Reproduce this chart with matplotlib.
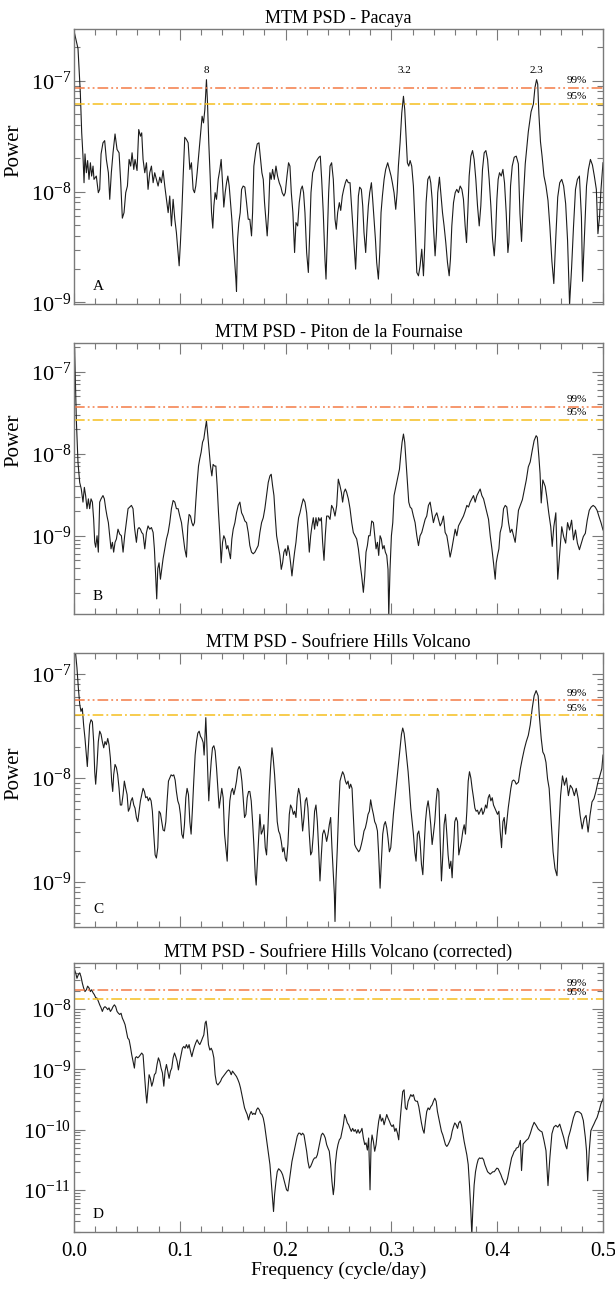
import numpy as np
import matplotlib
matplotlib.use("Agg")
import matplotlib.pyplot as plt
from matplotlib.ticker import MultipleLocator, LogLocator, NullFormatter, FixedLocator

# ---------------- data (frequency in cycle/day, log10 of power) ----------------
pacaya_points = [
    (0.0000, -6.55), (0.0038, -6.71), (0.0060, -7.11), (0.0073, -7.47), (0.0085, -7.68), (0.0095, -7.92),
    (0.0104, -7.66), (0.0117, -7.83), (0.0129, -7.72), (0.0142, -7.89), (0.0155, -7.74), (0.0167, -7.86),
    (0.0180, -7.77), (0.0189, -7.89), (0.0211, -7.86), (0.0230, -8.01), (0.0243, -7.98), (0.0256, -7.66),
    (0.0274, -7.56), (0.0290, -7.54), (0.0306, -7.71), (0.0325, -7.83), (0.0338, -8.07), (0.0353, -7.83),
    (0.0369, -7.65), (0.0388, -7.48), (0.0407, -7.62), (0.0426, -7.65), (0.0442, -7.92), (0.0457, -8.24),
    (0.0473, -8.19), (0.0489, -8.01), (0.0505, -7.95), (0.0521, -7.71), (0.0536, -7.77), (0.0549, -7.65),
    (0.0565, -7.80), (0.0577, -7.71), (0.0596, -7.81), (0.0612, -7.44), (0.0628, -7.50), (0.0640, -7.47),
    (0.0653, -7.71), (0.0669, -7.83), (0.0685, -7.74), (0.0700, -7.98), (0.0716, -7.83), (0.0732, -7.77),
    (0.0748, -7.92), (0.0763, -7.83), (0.0779, -7.89), (0.0795, -7.95), (0.0811, -7.87), (0.0826, -7.92),
    (0.0842, -7.81), (0.0858, -7.95), (0.0874, -8.07), (0.0890, -8.19), (0.0905, -8.04), (0.0921, -8.31),
    (0.0937, -8.07), (0.0953, -8.25), (0.0968, -8.37), (0.0984, -8.55), (0.0994, -8.67), (0.1006, -8.46),
    (0.1019, -8.19), (0.1032, -7.86), (0.1047, -7.51), (0.1063, -7.53), (0.1079, -7.56), (0.1095, -7.80),
    (0.1110, -7.74), (0.1126, -7.98), (0.1139, -8.01), (0.1151, -7.95), (0.1164, -7.83), (0.1183, -7.62),
    (0.1199, -7.44), (0.1211, -7.32), (0.1224, -7.38), (0.1237, -7.26), (0.1252, -6.99), (0.1262, -7.20),
    (0.1274, -7.56), (0.1287, -7.86), (0.1300, -8.19), (0.1312, -8.33), (0.1322, -8.13), (0.1334, -8.01),
    (0.1347, -8.07), (0.1363, -7.89), (0.1379, -7.80), (0.1391, -7.71), (0.1404, -7.92), (0.1416, -8.14),
    (0.1429, -8.01), (0.1442, -7.92), (0.1454, -7.86), (0.1467, -7.95), (0.1479, -8.10), (0.1492, -8.25),
    (0.1505, -8.46), (0.1517, -8.61), (0.1530, -8.79), (0.1536, -8.90), (0.1546, -8.43), (0.1558, -8.28),
    (0.1571, -8.19), (0.1584, -7.98), (0.1599, -7.95), (0.1615, -7.96), (0.1631, -8.10), (0.1647, -8.25),
    (0.1662, -8.25), (0.1678, -8.40), (0.1688, -8.19), (0.1700, -7.77), (0.1716, -7.65), (0.1732, -7.57),
    (0.1748, -7.56), (0.1763, -7.71), (0.1776, -7.83), (0.1789, -7.89), (0.1801, -8.10), (0.1814, -8.25),
    (0.1826, -8.40), (0.1839, -8.19), (0.1852, -7.83), (0.1864, -7.89), (0.1877, -7.80), (0.1893, -7.89),
    (0.1909, -7.77), (0.1924, -7.86), (0.1940, -7.92), (0.1956, -7.96), (0.1968, -8.01), (0.1984, -8.04),
    (0.1997, -8.01), (0.2013, -7.86), (0.2028, -7.74), (0.2041, -7.77), (0.2054, -8.01), (0.2069, -8.19),
    (0.2085, -8.55), (0.2098, -8.28), (0.2114, -8.31), (0.2129, -8.10), (0.2145, -7.98), (0.2158, -7.95),
    (0.2170, -8.01), (0.2183, -8.19), (0.2199, -8.55), (0.2215, -8.73), (0.2227, -8.40), (0.2240, -8.01),
    (0.2256, -7.83), (0.2268, -7.80), (0.2284, -7.74), (0.2300, -7.71), (0.2315, -7.69), (0.2328, -7.68),
    (0.2341, -7.89), (0.2356, -8.19), (0.2372, -8.61), (0.2382, -8.79), (0.2394, -8.43), (0.2407, -8.01),
    (0.2420, -7.77), (0.2435, -7.74), (0.2451, -7.89), (0.2467, -8.25), (0.2479, -8.34), (0.2492, -8.19),
    (0.2508, -8.10), (0.2521, -8.17), (0.2536, -8.04), (0.2549, -7.98), (0.2565, -7.92), (0.2577, -7.89),
    (0.2593, -7.92), (0.2609, -7.92), (0.2621, -8.10), (0.2634, -8.31), (0.2650, -8.55), (0.2662, -8.70),
    (0.2675, -8.40), (0.2688, -8.04), (0.2700, -7.96), (0.2716, -7.98), (0.2729, -8.13), (0.2741, -8.37),
    (0.2757, -8.55), (0.2770, -8.31), (0.2782, -8.13), (0.2795, -8.01), (0.2811, -7.92), (0.2823, -8.07),
    (0.2836, -8.25), (0.2849, -8.43), (0.2861, -8.64), (0.2877, -8.79), (0.2890, -8.55), (0.2902, -8.19),
    (0.2915, -8.04), (0.2931, -7.89), (0.2946, -7.80), (0.2965, -7.74), (0.2981, -7.80), (0.2997, -7.86),
    (0.3009, -7.92), (0.3025, -8.01), (0.3041, -8.16), (0.3054, -8.01), (0.3066, -7.77), (0.3082, -7.56),
    (0.3098, -7.29), (0.3114, -7.14), (0.3126, -7.26), (0.3139, -7.50), (0.3151, -7.74), (0.3164, -7.77),
    (0.3177, -7.72), (0.3192, -7.77), (0.3208, -7.95), (0.3224, -8.31), (0.3240, -8.73), (0.3256, -8.76),
    (0.3271, -8.67), (0.3287, -8.52), (0.3303, -8.76), (0.3315, -8.49), (0.3328, -8.10), (0.3344, -7.89),
    (0.3360, -7.86), (0.3372, -7.92), (0.3385, -8.07), (0.3397, -8.31), (0.3413, -8.58), (0.3426, -8.37),
    (0.3438, -8.01), (0.3454, -7.87), (0.3467, -8.01), (0.3483, -8.19), (0.3498, -8.31), (0.3514, -8.46),
    (0.3530, -8.64), (0.3546, -8.76), (0.3558, -8.61), (0.3571, -8.31), (0.3587, -8.10), (0.3603, -8.01),
    (0.3618, -7.98), (0.3634, -8.01), (0.3650, -7.95), (0.3666, -7.98), (0.3681, -8.07), (0.3697, -8.31),
    (0.3710, -8.46), (0.3722, -8.19), (0.3735, -7.86), (0.3751, -7.68), (0.3767, -7.63), (0.3782, -7.71),
    (0.3798, -7.89), (0.3814, -8.13), (0.3830, -8.31), (0.3845, -8.13), (0.3861, -7.80), (0.3877, -7.65),
    (0.3893, -7.63), (0.3909, -7.71), (0.3924, -7.89), (0.3940, -8.13), (0.3956, -8.43), (0.3972, -8.58),
    (0.3984, -8.40), (0.3997, -8.07), (0.4009, -7.89), (0.4022, -7.83), (0.4038, -7.86), (0.4054, -7.80),
    (0.4069, -7.92), (0.4085, -8.19), (0.4101, -8.55), (0.4110, -8.46), (0.4126, -7.95), (0.4142, -7.77),
    (0.4161, -7.69), (0.4180, -7.68), (0.4200, -7.75), (0.4215, -8.20), (0.4230, -8.45), (0.4245, -8.10),
    (0.4265, -7.75), (0.4294, -7.46), (0.4320, -7.28), (0.4342, -7.21), (0.4357, -7.06), (0.4372, -6.99),
    (0.4383, -7.03), (0.4394, -7.30), (0.4409, -7.55), (0.4424, -7.68), (0.4442, -7.86), (0.4461, -7.95),
    (0.4480, -8.08), (0.4498, -8.32), (0.4517, -8.63), (0.4535, -8.83), (0.4554, -8.41), (0.4572, -8.05),
    (0.4591, -7.92), (0.4610, -7.89), (0.4628, -7.95), (0.4647, -8.11), (0.4665, -8.44), (0.4684, -9.02),
    (0.4703, -8.69), (0.4721, -8.32), (0.4740, -7.98), (0.4758, -7.89), (0.4777, -7.86), (0.4796, -8.23),
    (0.4807, -8.81), (0.4825, -8.38), (0.4844, -7.95), (0.4862, -7.80), (0.4881, -7.71), (0.4900, -7.76),
    (0.4918, -7.86), (0.4937, -7.98), (0.4952, -8.38), (0.4967, -8.23), (0.4981, -7.98), (0.5000, -7.74),
]

piton_points = [
    (0.0000, -6.60), (0.0006, -6.72), (0.0022, -7.58), (0.0038, -8.11), (0.0054, -8.35), (0.0069, -8.43), (0.0085, -8.59),
    (0.0098, -8.41), (0.0110, -8.51), (0.0123, -8.67), (0.0136, -8.55), (0.0148, -8.67), (0.0161, -8.55),
    (0.0174, -8.59), (0.0186, -8.80), (0.0196, -9.08), (0.0205, -9.14), (0.0218, -9.00), (0.0230, -9.20),
    (0.0243, -8.59), (0.0256, -8.55), (0.0274, -8.51), (0.0287, -8.55), (0.0300, -8.67), (0.0312, -8.76),
    (0.0325, -8.84), (0.0338, -9.00), (0.0350, -9.16), (0.0363, -9.08), (0.0375, -9.20), (0.0388, -9.08),
    (0.0401, -9.04), (0.0416, -8.92), (0.0432, -8.98), (0.0448, -9.00), (0.0464, -9.20), (0.0479, -9.00),
    (0.0495, -8.84), (0.0511, -8.67), (0.0527, -8.65), (0.0543, -8.63), (0.0558, -8.67), (0.0574, -8.92),
    (0.0590, -9.08), (0.0603, -8.92), (0.0615, -8.90), (0.0628, -8.92), (0.0640, -8.96), (0.0653, -8.98),
    (0.0669, -9.16), (0.0685, -8.96), (0.0700, -8.88), (0.0716, -8.92), (0.0732, -8.90), (0.0748, -8.96),
    (0.0760, -9.16), (0.0773, -9.53), (0.0782, -9.77), (0.0792, -9.40), (0.0804, -9.33), (0.0817, -9.53),
    (0.0830, -9.40), (0.0842, -9.28), (0.0858, -9.16), (0.0874, -9.04), (0.0890, -8.96), (0.0905, -8.84),
    (0.0921, -8.67), (0.0937, -8.57), (0.0953, -8.59), (0.0968, -8.67), (0.0984, -8.67), (0.1000, -8.76),
    (0.1016, -8.84), (0.1032, -9.00), (0.1047, -9.16), (0.1063, -9.26), (0.1076, -8.88), (0.1088, -8.74),
    (0.1101, -8.76), (0.1114, -8.84), (0.1126, -8.88), (0.1139, -8.84), (0.1151, -8.59), (0.1164, -8.35),
    (0.1177, -8.15), (0.1189, -8.06), (0.1202, -7.98), (0.1215, -7.86), (0.1227, -7.82), (0.1240, -7.70),
    (0.1252, -7.60), (0.1265, -7.78), (0.1278, -7.98), (0.1290, -8.15), (0.1303, -8.27), (0.1315, -8.13),
    (0.1328, -8.15), (0.1341, -8.15), (0.1353, -8.39), (0.1366, -8.72), (0.1379, -9.00), (0.1391, -9.33),
    (0.1404, -9.08), (0.1416, -9.00), (0.1429, -9.04), (0.1442, -9.16), (0.1454, -9.12), (0.1467, -9.20),
    (0.1479, -9.28), (0.1492, -9.04), (0.1505, -8.92), (0.1521, -8.84), (0.1536, -8.72), (0.1552, -8.63),
    (0.1568, -8.59), (0.1584, -8.72), (0.1599, -8.76), (0.1615, -8.82), (0.1631, -8.84), (0.1647, -8.96),
    (0.1662, -9.12), (0.1678, -9.20), (0.1694, -9.22), (0.1710, -9.20), (0.1726, -9.16), (0.1741, -9.12),
    (0.1757, -8.96), (0.1773, -8.84), (0.1789, -8.78), (0.1804, -8.67), (0.1820, -8.51), (0.1836, -8.35),
    (0.1852, -8.27), (0.1864, -8.25), (0.1877, -8.39), (0.1890, -8.51), (0.1902, -8.76), (0.1915, -9.00),
    (0.1931, -9.12), (0.1946, -9.24), (0.1959, -9.41), (0.1972, -9.33), (0.1984, -9.20), (0.1997, -9.16),
    (0.2009, -9.24), (0.2022, -9.12), (0.2035, -9.20), (0.2047, -9.33), (0.2060, -9.49), (0.2073, -9.33),
    (0.2085, -9.20), (0.2098, -9.08), (0.2110, -8.92), (0.2123, -8.78), (0.2136, -8.72), (0.2151, -8.63),
    (0.2167, -8.55), (0.2183, -8.59), (0.2199, -8.72), (0.2211, -8.92), (0.2224, -9.20), (0.2237, -9.00),
    (0.2249, -8.88), (0.2262, -8.78), (0.2274, -8.92), (0.2287, -8.78), (0.2300, -8.88), (0.2312, -8.78),
    (0.2325, -8.82), (0.2338, -8.78), (0.2350, -9.08), (0.2363, -9.30), (0.2375, -9.00), (0.2388, -8.76),
    (0.2404, -8.76), (0.2420, -8.80), (0.2435, -8.63), (0.2451, -8.67), (0.2467, -8.76), (0.2483, -8.63),
    (0.2498, -8.31), (0.2514, -8.39), (0.2527, -8.47), (0.2539, -8.59), (0.2552, -8.47), (0.2565, -8.43),
    (0.2577, -8.47), (0.2593, -8.55), (0.2609, -8.67), (0.2625, -8.84), (0.2640, -8.96), (0.2656, -9.00),
    (0.2672, -9.04), (0.2688, -9.16), (0.2703, -9.33), (0.2719, -9.49), (0.2735, -9.69), (0.2748, -9.49),
    (0.2760, -9.20), (0.2773, -9.12), (0.2785, -9.00), (0.2798, -9.00), (0.2814, -8.82), (0.2830, -8.84),
    (0.2842, -9.00), (0.2855, -9.16), (0.2868, -9.08), (0.2880, -9.24), (0.2893, -9.00), (0.2905, -9.04),
    (0.2918, -9.16), (0.2931, -9.12), (0.2943, -9.20), (0.2956, -9.24), (0.2968, -9.41), (0.2975, -9.98),
    (0.2987, -9.41), (0.3000, -9.00), (0.3013, -8.84), (0.3025, -8.51), (0.3038, -8.43), (0.3050, -8.35),
    (0.3063, -8.27), (0.3076, -8.19), (0.3088, -8.02), (0.3101, -7.86), (0.3114, -7.76), (0.3126, -7.86),
    (0.3139, -8.11), (0.3151, -8.35), (0.3164, -8.59), (0.3177, -8.65), (0.3192, -8.67), (0.3208, -8.76),
    (0.3224, -8.84), (0.3240, -9.00), (0.3256, -9.12), (0.3271, -9.00), (0.3287, -8.96), (0.3303, -8.88),
    (0.3319, -8.80), (0.3334, -8.76), (0.3350, -8.63), (0.3366, -8.59), (0.3382, -8.72), (0.3397, -8.84),
    (0.3413, -8.76), (0.3429, -8.72), (0.3445, -8.80), (0.3461, -8.88), (0.3476, -8.84), (0.3492, -8.76),
    (0.3508, -8.96), (0.3524, -9.00), (0.3539, -9.12), (0.3555, -9.26), (0.3571, -9.16), (0.3587, -9.04),
    (0.3603, -8.92), (0.3618, -9.00), (0.3634, -8.88), (0.3650, -8.84), (0.3666, -8.80), (0.3681, -8.76),
    (0.3697, -8.70), (0.3713, -8.63), (0.3729, -8.65), (0.3744, -8.59), (0.3760, -8.55), (0.3776, -8.51),
    (0.3792, -8.59), (0.3808, -8.51), (0.3823, -8.47), (0.3839, -8.43), (0.3855, -8.51), (0.3871, -8.55),
    (0.3886, -8.63), (0.3902, -8.72), (0.3918, -8.80), (0.3934, -9.00), (0.3950, -9.16), (0.3965, -9.33),
    (0.3981, -9.53), (0.3991, -9.33), (0.4003, -9.24), (0.4016, -9.16), (0.4028, -8.96), (0.4044, -8.88),
    (0.4060, -8.67), (0.4076, -8.63), (0.4091, -8.65), (0.4107, -8.84), (0.4123, -8.96), (0.4139, -8.92),
    (0.4155, -9.00), (0.4170, -9.08), (0.4201, -8.69), (0.4238, -8.56), (0.4275, -8.32), (0.4294, -8.16),
    (0.4312, -8.10), (0.4331, -7.96), (0.4349, -7.84), (0.4368, -7.78), (0.4379, -7.80), (0.4394, -8.04),
    (0.4405, -8.24), (0.4416, -8.60), (0.4431, -8.32), (0.4454, -8.40), (0.4468, -8.52), (0.4487, -8.72),
    (0.4506, -8.89), (0.4520, -9.13), (0.4535, -8.89), (0.4554, -8.72), (0.4572, -9.53), (0.4591, -9.21),
    (0.4610, -8.89), (0.4628, -9.01), (0.4647, -9.09), (0.4665, -8.84), (0.4684, -8.93), (0.4703, -8.81),
    (0.4721, -9.05), (0.4740, -8.93), (0.4758, -9.09), (0.4777, -9.17), (0.4796, -9.09), (0.4814, -9.01),
    (0.4833, -8.97), (0.4851, -8.81), (0.4870, -8.69), (0.4888, -8.65), (0.4907, -8.63), (0.4926, -8.65),
    (0.4944, -8.69), (0.4963, -8.77), (0.4981, -8.84), (0.5000, -8.93),
]

soufriere_points = [
    (0.0000, -6.80), (0.0016, -6.81), (0.0028, -6.94), (0.0041, -7.13), (0.0054, -7.29), (0.0066, -7.36),
    (0.0079, -7.33), (0.0091, -7.49), (0.0104, -7.62), (0.0117, -7.78), (0.0126, -7.89), (0.0136, -7.71),
    (0.0148, -7.49), (0.0161, -7.44), (0.0174, -7.46), (0.0186, -7.65), (0.0196, -7.94), (0.0205, -8.06),
    (0.0218, -7.87), (0.0230, -7.65), (0.0243, -7.55), (0.0256, -7.58), (0.0268, -7.65), (0.0281, -7.71),
    (0.0293, -7.65), (0.0306, -7.68), (0.0319, -7.62), (0.0331, -7.68), (0.0344, -7.81), (0.0356, -8.03),
    (0.0366, -8.13), (0.0375, -7.97), (0.0388, -7.87), (0.0401, -7.90), (0.0413, -7.97), (0.0426, -8.10),
    (0.0438, -8.26), (0.0451, -8.26), (0.0464, -8.16), (0.0476, -8.03), (0.0489, -8.10), (0.0502, -8.16),
    (0.0514, -8.32), (0.0527, -8.29), (0.0539, -8.22), (0.0552, -8.19), (0.0565, -8.26), (0.0577, -8.29),
    (0.0590, -8.38), (0.0603, -8.42), (0.0615, -8.32), (0.0628, -8.22), (0.0640, -8.16), (0.0653, -8.10),
    (0.0666, -8.13), (0.0678, -8.19), (0.0691, -8.18), (0.0703, -8.22), (0.0716, -8.19), (0.0729, -8.22),
    (0.0741, -8.32), (0.0754, -8.54), (0.0767, -8.74), (0.0779, -8.77), (0.0792, -8.67), (0.0804, -8.32),
    (0.0817, -8.34), (0.0830, -8.42), (0.0842, -8.50), (0.0855, -8.51), (0.0868, -8.42), (0.0880, -8.22),
    (0.0893, -8.03), (0.0905, -8.00), (0.0918, -7.97), (0.0931, -7.98), (0.0943, -7.97), (0.0956, -8.02),
    (0.0968, -8.13), (0.0981, -8.22), (0.0994, -8.26), (0.1006, -8.35), (0.1019, -8.54), (0.1032, -8.58),
    (0.1044, -8.45), (0.1057, -8.19), (0.1069, -8.10), (0.1082, -8.16), (0.1095, -8.42), (0.1107, -8.54),
    (0.1120, -8.29), (0.1132, -8.03), (0.1145, -7.78), (0.1158, -7.65), (0.1170, -7.57), (0.1183, -7.55),
    (0.1196, -7.60), (0.1208, -7.62), (0.1221, -7.66), (0.1230, -7.78), (0.1240, -7.55), (0.1246, -7.42),
    (0.1256, -7.68), (0.1265, -7.97), (0.1274, -8.22), (0.1284, -8.03), (0.1297, -7.84), (0.1309, -7.71),
    (0.1322, -7.69), (0.1334, -7.74), (0.1347, -7.90), (0.1360, -8.10), (0.1372, -8.29), (0.1385, -8.19),
    (0.1397, -8.10), (0.1410, -8.19), (0.1423, -8.54), (0.1435, -8.67), (0.1448, -8.80), (0.1461, -8.42),
    (0.1473, -8.22), (0.1486, -8.13), (0.1498, -8.10), (0.1511, -8.16), (0.1524, -8.10), (0.1536, -8.03),
    (0.1549, -7.92), (0.1562, -7.89), (0.1574, -7.92), (0.1587, -8.03), (0.1599, -8.19), (0.1612, -8.38),
    (0.1625, -8.35), (0.1637, -8.19), (0.1650, -8.13), (0.1662, -8.13), (0.1675, -8.22), (0.1688, -8.42),
    (0.1700, -8.64), (0.1713, -8.93), (0.1722, -9.03), (0.1732, -8.83), (0.1744, -8.58), (0.1757, -8.35),
    (0.1770, -8.54), (0.1782, -8.51), (0.1795, -8.45), (0.1808, -8.67), (0.1820, -8.74), (0.1833, -8.48),
    (0.1845, -8.16), (0.1858, -7.90), (0.1871, -7.71), (0.1883, -7.81), (0.1896, -7.97), (0.1909, -8.19),
    (0.1921, -8.42), (0.1934, -8.51), (0.1946, -8.54), (0.1959, -8.61), (0.1972, -8.71), (0.1984, -8.67),
    (0.1997, -8.77), (0.2009, -8.80), (0.2022, -8.64), (0.2035, -8.35), (0.2047, -8.26), (0.2060, -8.29),
    (0.2073, -8.35), (0.2085, -8.32), (0.2098, -8.38), (0.2110, -8.19), (0.2123, -8.10), (0.2136, -8.16),
    (0.2148, -8.32), (0.2161, -8.51), (0.2174, -8.38), (0.2186, -8.22), (0.2199, -8.19), (0.2211, -8.29),
    (0.2224, -8.54), (0.2237, -8.74), (0.2249, -8.71), (0.2262, -8.54), (0.2274, -8.32), (0.2287, -8.26),
    (0.2300, -8.42), (0.2312, -8.67), (0.2325, -8.99), (0.2338, -8.74), (0.2350, -8.54), (0.2363, -8.50),
    (0.2375, -8.54), (0.2388, -8.61), (0.2401, -8.54), (0.2413, -8.45), (0.2426, -8.38), (0.2438, -8.67),
    (0.2451, -8.93), (0.2461, -9.12), (0.2467, -9.38), (0.2476, -8.99), (0.2489, -8.67), (0.2502, -8.29),
    (0.2514, -8.03), (0.2527, -7.98), (0.2539, -7.94), (0.2552, -7.97), (0.2565, -8.03), (0.2577, -8.06),
    (0.2590, -8.03), (0.2603, -8.10), (0.2615, -8.06), (0.2628, -8.10), (0.2640, -8.35), (0.2653, -8.64),
    (0.2666, -8.67), (0.2678, -8.69), (0.2691, -8.71), (0.2703, -8.69), (0.2716, -8.64), (0.2729, -8.58),
    (0.2741, -8.51), (0.2754, -8.48), (0.2767, -8.42), (0.2779, -8.35), (0.2792, -8.32), (0.2804, -8.21),
    (0.2817, -8.29), (0.2830, -8.35), (0.2842, -8.42), (0.2855, -8.45), (0.2868, -8.51), (0.2880, -8.74),
    (0.2893, -9.06), (0.2905, -8.80), (0.2918, -8.54), (0.2931, -8.45), (0.2943, -8.42), (0.2956, -8.48),
    (0.2968, -8.58), (0.2981, -8.71), (0.2994, -8.67), (0.3006, -8.51), (0.3019, -8.35), (0.3032, -8.22),
    (0.3044, -8.10), (0.3057, -7.97), (0.3069, -7.84), (0.3082, -7.71), (0.3095, -7.58), (0.3107, -7.52),
    (0.3120, -7.57), (0.3132, -7.68), (0.3145, -7.81), (0.3158, -7.94), (0.3170, -8.10), (0.3183, -8.29),
    (0.3196, -8.42), (0.3208, -8.54), (0.3221, -8.71), (0.3233, -8.80), (0.3246, -8.54), (0.3259, -8.51),
    (0.3271, -8.61), (0.3284, -8.83), (0.3297, -8.93), (0.3309, -8.67), (0.3322, -8.42), (0.3334, -8.29),
    (0.3347, -8.22), (0.3360, -8.32), (0.3372, -8.45), (0.3385, -8.64), (0.3397, -8.54), (0.3410, -8.42),
    (0.3423, -8.22), (0.3435, -8.10), (0.3448, -8.13), (0.3461, -8.61), (0.3473, -8.99), (0.3486, -8.74),
    (0.3498, -8.45), (0.3511, -8.35), (0.3524, -8.54), (0.3536, -8.74), (0.3549, -8.87), (0.3562, -8.80),
    (0.3574, -8.96), (0.3587, -8.67), (0.3599, -8.42), (0.3612, -8.38), (0.3625, -8.42), (0.3637, -8.74),
    (0.3650, -8.67), (0.3662, -8.61), (0.3675, -8.51), (0.3688, -8.45), (0.3700, -8.54), (0.3713, -8.32),
    (0.3726, -8.03), (0.3738, -7.94), (0.3751, -8.00), (0.3763, -8.10), (0.3776, -8.19), (0.3789, -8.29),
    (0.3801, -8.32), (0.3814, -8.31), (0.3826, -8.35), (0.3839, -8.32), (0.3852, -8.29), (0.3864, -8.35),
    (0.3877, -8.32), (0.3890, -8.26), (0.3902, -8.29), (0.3915, -8.19), (0.3927, -8.16), (0.3940, -8.22),
    (0.3953, -8.19), (0.3965, -8.26), (0.3978, -8.29), (0.3991, -8.32), (0.4003, -8.35), (0.4016, -8.32),
    (0.4028, -8.51), (0.4041, -8.67), (0.4054, -8.42), (0.4066, -8.38), (0.4079, -8.54), (0.4091, -8.42),
    (0.4104, -8.29), (0.4117, -8.19), (0.4129, -8.10), (0.4142, -8.03), (0.4155, -8.02), (0.4167, -8.03),
    (0.4180, -8.06), (0.4201, -8.04), (0.4219, -7.91), (0.4238, -7.81), (0.4257, -7.72), (0.4275, -7.65),
    (0.4294, -7.59), (0.4312, -7.49), (0.4331, -7.33), (0.4349, -7.21), (0.4368, -7.16), (0.4387, -7.21),
    (0.4398, -7.40), (0.4416, -7.62), (0.4431, -7.75), (0.4446, -7.78), (0.4461, -7.85), (0.4476, -8.01),
    (0.4491, -8.10), (0.4509, -8.39), (0.4528, -8.71), (0.4546, -8.87), (0.4565, -8.94), (0.4580, -8.55),
    (0.4599, -8.17), (0.4617, -7.98), (0.4636, -8.07), (0.4654, -8.00), (0.4673, -8.17), (0.4691, -8.07),
    (0.4710, -8.10), (0.4729, -8.17), (0.4747, -8.10), (0.4766, -8.20), (0.4784, -8.36), (0.4803, -8.49),
    (0.4822, -8.39), (0.4840, -8.36), (0.4859, -8.52), (0.4877, -8.36), (0.4896, -8.23), (0.4914, -8.20),
    (0.4933, -8.13), (0.4952, -8.04), (0.4970, -7.98), (0.4989, -7.91), (0.5000, -7.78),
]

soufriere_corrected_points = [
    (0.0000, -7.32), (0.0016, -7.40), (0.0028, -7.49), (0.0041, -7.43), (0.0054, -7.40), (0.0066, -7.46),
    (0.0079, -7.57), (0.0091, -7.65), (0.0104, -7.71), (0.0117, -7.68), (0.0129, -7.62), (0.0142, -7.65),
    (0.0155, -7.71), (0.0167, -7.68), (0.0180, -7.73), (0.0192, -7.76), (0.0205, -7.81), (0.0218, -7.82),
    (0.0230, -7.87), (0.0243, -7.93), (0.0256, -7.98), (0.0268, -8.04), (0.0281, -7.98), (0.0293, -7.96),
    (0.0306, -7.98), (0.0319, -8.01), (0.0331, -7.98), (0.0344, -8.04), (0.0356, -8.01), (0.0369, -7.96),
    (0.0382, -7.93), (0.0394, -7.96), (0.0407, -8.04), (0.0420, -8.07), (0.0432, -8.09), (0.0445, -8.07),
    (0.0457, -8.15), (0.0470, -8.20), (0.0483, -8.26), (0.0495, -8.37), (0.0508, -8.48), (0.0521, -8.51),
    (0.0533, -8.62), (0.0546, -8.76), (0.0558, -8.87), (0.0571, -8.98), (0.0580, -8.81), (0.0590, -8.79),
    (0.0603, -8.81), (0.0615, -8.79), (0.0628, -8.76), (0.0640, -8.73), (0.0653, -8.76), (0.0666, -9.09),
    (0.0678, -9.37), (0.0688, -9.56), (0.0697, -9.37), (0.0710, -9.09), (0.0722, -9.15), (0.0735, -9.28),
    (0.0748, -9.20), (0.0760, -9.09), (0.0773, -9.06), (0.0785, -8.92), (0.0798, -8.81), (0.0811, -8.87),
    (0.0823, -8.98), (0.0836, -9.06), (0.0849, -9.28), (0.0861, -9.03), (0.0874, -8.92), (0.0886, -9.03),
    (0.0899, -9.15), (0.0912, -9.03), (0.0924, -8.98), (0.0937, -8.81), (0.0950, -8.73), (0.0962, -8.79),
    (0.0975, -8.87), (0.0987, -9.01), (0.1000, -8.87), (0.1013, -8.76), (0.1025, -8.65), (0.1038, -8.62),
    (0.1050, -8.65), (0.1063, -8.59), (0.1076, -8.65), (0.1088, -8.59), (0.1101, -8.70), (0.1114, -8.79),
    (0.1126, -8.70), (0.1139, -8.62), (0.1151, -8.56), (0.1164, -8.51), (0.1177, -8.56), (0.1189, -8.59),
    (0.1202, -8.54), (0.1215, -8.48), (0.1227, -8.43), (0.1240, -8.23), (0.1249, -8.20), (0.1259, -8.34),
    (0.1271, -8.59), (0.1284, -8.68), (0.1297, -8.65), (0.1309, -8.70), (0.1322, -8.81), (0.1334, -9.09),
    (0.1347, -9.23), (0.1360, -9.26), (0.1372, -9.23), (0.1385, -9.20), (0.1397, -9.15), (0.1410, -9.12),
    (0.1423, -9.09), (0.1435, -9.06), (0.1448, -9.03), (0.1461, -9.01), (0.1473, -9.03), (0.1486, -9.09),
    (0.1498, -9.03), (0.1511, -9.06), (0.1524, -9.09), (0.1536, -9.12), (0.1549, -9.17), (0.1562, -9.23),
    (0.1574, -9.31), (0.1587, -9.42), (0.1599, -9.53), (0.1612, -9.64), (0.1625, -9.70), (0.1637, -9.75),
    (0.1650, -9.84), (0.1662, -9.75), (0.1675, -9.70), (0.1688, -9.75), (0.1700, -9.73), (0.1713, -9.75),
    (0.1726, -9.67), (0.1738, -9.64), (0.1751, -9.67), (0.1763, -9.73), (0.1776, -9.75), (0.1789, -9.81),
    (0.1801, -9.92), (0.1814, -10.09), (0.1826, -10.25), (0.1839, -10.42), (0.1852, -10.58), (0.1864, -10.86),
    (0.1877, -11.14), (0.1886, -11.36), (0.1896, -11.08), (0.1909, -10.86), (0.1921, -10.70), (0.1934, -10.65),
    (0.1946, -10.67), (0.1959, -10.70), (0.1972, -10.75), (0.1984, -10.83), (0.1997, -10.92), (0.2009, -11.00),
    (0.2022, -11.02), (0.2035, -10.86), (0.2047, -10.70), (0.2060, -10.53), (0.2073, -10.42), (0.2085, -10.31),
    (0.2098, -10.20), (0.2110, -10.11), (0.2123, -10.06), (0.2136, -10.06), (0.2148, -10.09), (0.2161, -10.06),
    (0.2174, -10.09), (0.2186, -10.22), (0.2199, -10.36), (0.2211, -10.53), (0.2224, -10.64), (0.2237, -10.61),
    (0.2249, -10.56), (0.2262, -10.50), (0.2274, -10.47), (0.2287, -10.47), (0.2300, -10.42), (0.2312, -10.31),
    (0.2325, -10.20), (0.2338, -10.09), (0.2350, -10.06), (0.2363, -10.09), (0.2375, -10.14), (0.2388, -10.25),
    (0.2401, -10.31), (0.2413, -10.36), (0.2426, -10.58), (0.2438, -10.86), (0.2451, -11.08), (0.2461, -10.92),
    (0.2470, -10.58), (0.2483, -10.36), (0.2495, -10.25), (0.2508, -10.17), (0.2521, -10.14), (0.2533, -10.03),
    (0.2546, -9.92), (0.2558, -9.75), (0.2571, -9.81), (0.2584, -9.89), (0.2596, -9.92), (0.2609, -9.98),
    (0.2621, -10.03), (0.2634, -9.98), (0.2647, -10.03), (0.2659, -10.00), (0.2672, -10.06), (0.2685, -10.00),
    (0.2697, -10.06), (0.2710, -10.03), (0.2722, -9.98), (0.2735, -10.14), (0.2748, -10.25), (0.2760, -10.22),
    (0.2773, -10.34), (0.2785, -10.14), (0.2798, -11.00), (0.2808, -10.25), (0.2817, -10.09), (0.2830, -10.20),
    (0.2842, -10.36), (0.2855, -10.25), (0.2868, -10.03), (0.2880, -9.86), (0.2893, -9.75), (0.2905, -9.86),
    (0.2918, -9.81), (0.2931, -9.92), (0.2943, -9.84), (0.2956, -9.75), (0.2968, -9.81), (0.2981, -9.86),
    (0.2994, -9.92), (0.3006, -9.95), (0.3019, -9.92), (0.3032, -10.03), (0.3044, -9.98), (0.3057, -10.06),
    (0.3069, -10.17), (0.3082, -9.86), (0.3095, -9.59), (0.3107, -9.37), (0.3120, -9.34), (0.3132, -9.64),
    (0.3145, -9.67), (0.3158, -9.53), (0.3170, -9.48), (0.3183, -9.42), (0.3196, -9.45), (0.3208, -9.42),
    (0.3221, -9.51), (0.3233, -9.53), (0.3246, -9.53), (0.3259, -9.62), (0.3271, -9.75), (0.3284, -9.89),
    (0.3297, -10.00), (0.3309, -10.06), (0.3322, -9.86), (0.3334, -9.70), (0.3347, -9.64), (0.3360, -9.67),
    (0.3372, -9.62), (0.3385, -9.59), (0.3397, -9.53), (0.3410, -9.48), (0.3423, -9.53), (0.3435, -9.70),
    (0.3448, -9.81), (0.3461, -9.92), (0.3473, -10.03), (0.3486, -10.09), (0.3498, -10.17), (0.3511, -10.25),
    (0.3524, -10.28), (0.3536, -10.25), (0.3549, -10.20), (0.3562, -10.14), (0.3574, -10.03), (0.3587, -9.95),
    (0.3599, -9.89), (0.3612, -9.92), (0.3625, -9.98), (0.3637, -9.89), (0.3650, -9.86), (0.3662, -9.92),
    (0.3675, -10.06), (0.3688, -10.20), (0.3700, -10.31), (0.3713, -10.42), (0.3726, -10.58), (0.3738, -10.92),
    (0.3751, -11.36), (0.3760, -11.75), (0.3770, -11.31), (0.3782, -10.92), (0.3795, -10.70), (0.3808, -10.58),
    (0.3820, -10.50), (0.3833, -10.47), (0.3845, -10.48), (0.3858, -10.47), (0.3871, -10.50), (0.3883, -10.58),
    (0.3896, -10.64), (0.3909, -10.70), (0.3921, -10.72), (0.3934, -10.74), (0.3946, -10.72), (0.3959, -10.70),
    (0.3972, -10.70), (0.3984, -10.67), (0.3997, -10.64), (0.4009, -10.65), (0.4022, -10.70), (0.4035, -10.75),
    (0.4047, -10.81), (0.4060, -10.86), (0.4073, -10.92), (0.4085, -10.89), (0.4098, -10.81), (0.4110, -10.70),
    (0.4123, -10.58), (0.4136, -10.47), (0.4148, -10.42), (0.4161, -10.36), (0.4174, -10.34), (0.4180, -10.31),
    (0.4201, -10.29), (0.4219, -10.18), (0.4230, -10.68), (0.4245, -10.24), (0.4275, -10.18), (0.4294, -10.15),
    (0.4312, -10.07), (0.4331, -9.96), (0.4349, -9.88), (0.4368, -9.93), (0.4387, -9.99), (0.4405, -10.02),
    (0.4424, -10.04), (0.4442, -10.18), (0.4461, -10.35), (0.4480, -10.93), (0.4498, -10.46), (0.4517, -10.07),
    (0.4535, -9.96), (0.4554, -9.93), (0.4572, -9.96), (0.4591, -9.91), (0.4610, -10.02), (0.4628, -10.13),
    (0.4647, -10.27), (0.4658, -10.32), (0.4673, -10.13), (0.4691, -10.02), (0.4706, -9.91), (0.4721, -9.80),
    (0.4740, -9.71), (0.4758, -9.70), (0.4777, -9.71), (0.4796, -9.74), (0.4814, -9.85), (0.4833, -10.13),
    (0.4844, -10.35), (0.4855, -10.85), (0.4870, -10.35), (0.4885, -10.02), (0.4900, -9.96), (0.4914, -9.91),
    (0.4929, -9.85), (0.4944, -9.80), (0.4963, -9.69), (0.4981, -9.57), (0.5000, -9.49),
]

panel_titles = ["MTM PSD - Pacaya",
                "MTM PSD - Piton de la Fournaise",
                "MTM PSD - Soufriere Hills Volcano",
                "MTM PSD - Soufriere Hills Volcano (corrected)"]
panel_letters = ["A", "B", "C", "D"]
conf99 = [8.65e-8, 3.74e-8, 5.58e-8, 2.07e-8]
conf95 = [6.2e-8, 2.6e-8, 4.0e-8, 1.47e-8]
ylims = [(9.66e-10, 2.93e-7), (1.11e-10, 2.24e-7), (3.69e-10, 1.60e-7), (2.0e-12, 5.9e-8)]
ydecades = [[1e-9, 1e-8, 1e-7], [1e-9, 1e-8, 1e-7], [1e-9, 1e-8, 1e-7], [1e-11, 1e-10, 1e-9, 1e-8]]
peak_labels = ["8", "3.2", "2.3"]
peak_label_freqs = [0.125, 0.3125, 0.4368]
peak_label_power = 1.23e-7
xticks = [0.0, 0.1, 0.2, 0.3, 0.4, 0.5]

# ---------------- figure ----------------
plt.rcParams['font.family'] = ['Liberation Serif', 'DejaVu Serif']
plt.rcParams['mathtext.fontset'] = 'custom'
plt.rcParams['mathtext.rm'] = 'Liberation Serif'
plt.rcParams['mathtext.it'] = 'Liberation Serif:italic'
plt.rcParams['mathtext.bf'] = 'Liberation Serif:bold'

fig = plt.figure(figsize=(6.15, 12.9), dpi=100)

left, width = 0.1203, 0.8602
boxes = [(0.7643, 0.2132), (0.5240, 0.2101), (0.2814, 0.2126), (0.0450, 0.2088)]
ylabel_y = [0.56, 0.64, 0.56]

spectra = [pacaya_points, piton_points, soufriere_points, soufriere_corrected_points]
frame_col = '#7a7a7a'
c99 = '#F47A45'
c95 = '#F5BE1E'

for i, pts in enumerate(spectra):
    b, h = boxes[i]
    ax = fig.add_axes([left, b, width, h])
    arr = np.array(pts)
    freq = arr[:, 0]
    power = 10.0 ** arr[:, 1]
    ax.plot(freq, power, color='#1c1c1c', lw=0.8)
    ax.set_yscale('log')
    ax.set_xlim(0, 0.5)
    ax.set_ylim(*ylims[i])

    ax.axhline(conf99[i], color=c99, lw=1.1, linestyle=(0, (7, 2, 1.2, 2, 1.2, 2)))
    ax.axhline(conf95[i], color=c95, lw=1.1, linestyle=(0, (7, 2, 1.2, 2)))
    ax.annotate("99%", xy=(0.475, conf99[i]), xytext=(0, 5), textcoords='offset points',
                ha='center', va='center', fontsize=8)
    ax.annotate("95%", xy=(0.475, conf95[i]), xytext=(0, 5), textcoords='offset points',
                ha='center', va='center', fontsize=8)

    ax.set_title(panel_titles[i], fontsize=13, pad=4)
    ax.text(0.036, 0.065, panel_letters[i], transform=ax.transAxes,
            ha='left', va='center', fontsize=11)

    ax.xaxis.set_major_locator(MultipleLocator(0.1))
    ax.xaxis.set_minor_locator(MultipleLocator(0.02))
    ax.yaxis.set_major_locator(FixedLocator(ydecades[i]))
    ax.yaxis.set_minor_locator(LogLocator(base=10, subs=np.arange(2, 10), numticks=20))
    ax.yaxis.set_minor_formatter(NullFormatter())
    ax.tick_params(which='both', direction='in', top=True, right=True,
                   color=frame_col, width=0.8)
    ax.tick_params(which='major', length=8)
    ax.tick_params(which='minor', length=4)
    ax.tick_params(axis='y', which='major', labelsize=16, pad=2)
    for sp in ax.spines.values():
        sp.set_color(frame_col)
        sp.set_linewidth(1.0)

    if i < 3:
        ax.set_xticklabels([])
        ax.set_ylabel("Power", fontsize=15)
        ax.yaxis.set_label_coords(-0.095, ylabel_y[i])
    else:
        ax.set_xticks(xticks)
        ax.set_xticklabels([f"{t:.1f}" for t in xticks])
        ax.tick_params(axis='x', which='major', labelsize=15, pad=7)
        ax.set_xlabel("Frequency (cycle/day)", fontsize=14, labelpad=1)

    if i == 0:
        for lab, fx in zip(peak_labels, peak_label_freqs):
            ax.text(fx, peak_label_power, lab, ha='center', va='center', fontsize=8)

fig.savefig("out.png", dpi=100)
